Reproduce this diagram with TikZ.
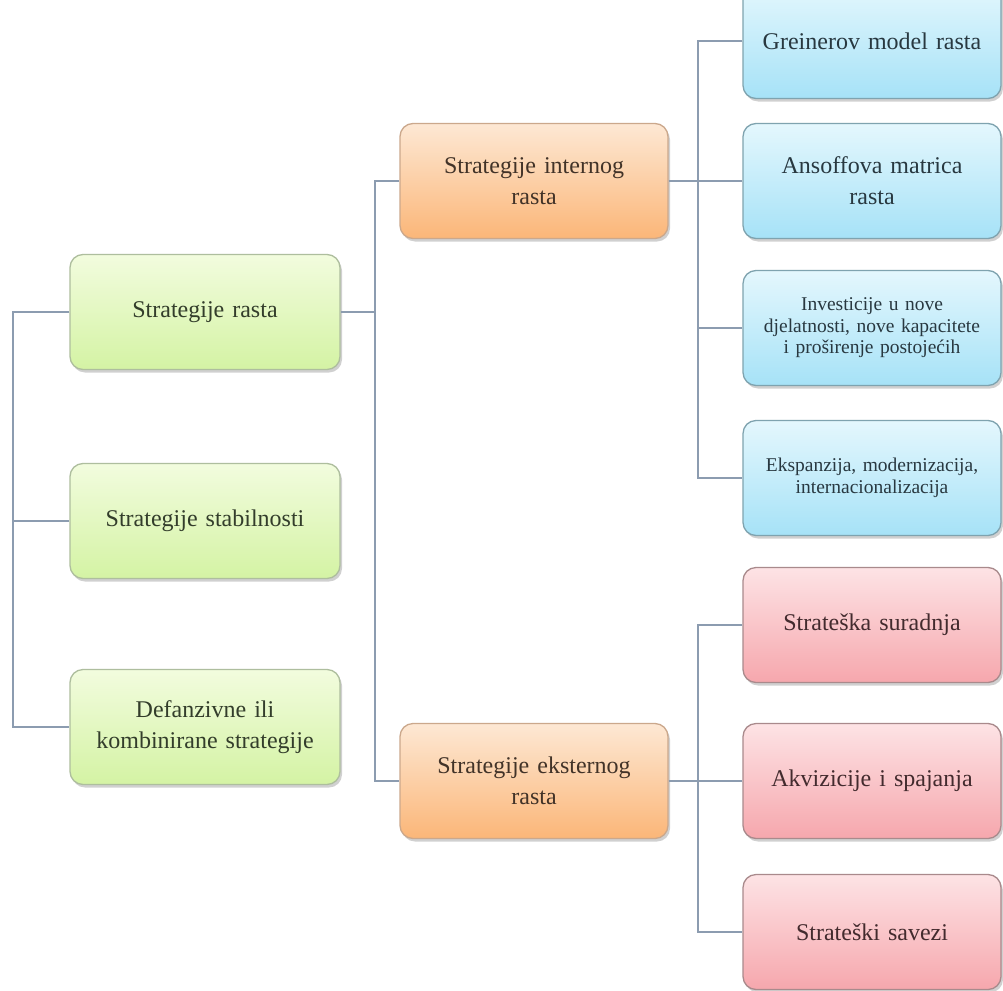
\documentclass[tikz,border=0pt]{standalone}
\usepackage{fontspec}
\setmainfont{Liberation Serif}
\usetikzlibrary{shadows}

\definecolor{lnc}{HTML}{8C9CB0}
\definecolor{grntop}{HTML}{F2FCDE}
\definecolor{grnbot}{HTML}{D4F3A4}
\definecolor{grnline}{HTML}{AEBE9E}
\definecolor{grntext}{HTML}{333D2B}
\definecolor{orgtop}{HTML}{FDE8D4}
\definecolor{orgbot}{HTML}{FBB678}
\definecolor{orgline}{HTML}{CBA88C}
\definecolor{orgtext}{HTML}{423328}
\definecolor{blutop}{HTML}{E4F7FD}
\definecolor{blubot}{HTML}{A6E2F7}
\definecolor{bluline}{HTML}{7FA3AF}
\definecolor{blutext}{HTML}{283840}
\definecolor{redtop}{HTML}{FDE3E5}
\definecolor{redbot}{HTML}{F6A7AD}
\definecolor{redline}{HTML}{A98A8C}
\definecolor{redtext}{HTML}{432B2E}

\tikzset{
    box/.style={rounded corners=13pt, draw, line width=1.3pt, align=center,
        inner sep=0pt, minimum height=115pt,
        font=\fontsize{24}{31}\selectfont,
        drop shadow={shadow xshift=2pt, shadow yshift=-3pt, opacity=0.3, fill=black!60}},
    greenbox/.style={box, minimum width=270pt, text width=262pt,
        draw=grnline, top color=grntop, bottom color=grnbot, text=grntext},
    orangebox/.style={box, minimum width=268pt, text width=260pt,
        draw=orgline, top color=orgtop, bottom color=orgbot, text=orgtext},
    bluebox/.style={box, minimum width=258pt, text width=254pt,
        draw=bluline, top color=blutop, bottom color=blubot, text=blutext},
    redbox/.style={box, minimum width=258pt, text width=254pt,
        draw=redline, top color=redtop, bottom color=redbot, text=redtext},
    smalltext/.style={font=\fontsize{19.5}{21.5}\selectfont},
    midtext/.style={font=\fontsize{19.5}{21.5}\selectfont},
    conn/.style={draw=lnc, line width=1.6pt},
}

\begin{document}
\begin{tikzpicture}[x=1pt, y=-1pt]
    \useasboundingbox[fill=white] (0,0) rectangle (1003,990);
    % junction columns
    \coordinate (j0) at (13,0);
    \coordinate (j1) at (375,0);
    \coordinate (j2) at (698,0);
    % level 1
    \node[greenbox] (rasta) at (205,312) {Strategije rasta};
    \node[greenbox] (stab) at (205,521) {Strategije stabilnosti};
    \node[greenbox] (def) at (205,727) {Defanzivne ili\\kombinirane strategije};
    % level 2
    \node[orangebox] (intern) at (534,181) {Strategije internog\\rasta};
    \node[orangebox] (ekst) at (534,781) {Strategije eksternog\\rasta};
    % level 3, internal growth
    \node[bluebox] (grein) at (872,41) {Greinerov model rasta};
    \node[bluebox] (ansof) at (872,181) {Ansoffova matrica\\rasta};
    \node[bluebox, smalltext] (invest) at (872,328) {Investicije u nove\\djelatnosti, nove kapacitete\\i proširenje postojećih};
    \node[bluebox, midtext] (eksp) at (872,478) {Ekspanzija, modernizacija,\\internacionalizacija};
    % level 3, external growth
    \node[redbox] (surad) at (872,625) {Strateška suradnja};
    \node[redbox] (akviz) at (872,781) {Akvizicije i spajanja};
    \node[redbox] (savez) at (872,932) {Strateški savezi};
    % connectors
    \draw[conn] (rasta.west) -- (rasta.west -| j0) -- (def.west -| j0) -- (def.west);
    \draw[conn] (stab.west) -- (stab.west -| j0);
    \draw[conn] (rasta.east) -- (rasta.east -| j1);
    \draw[conn] (intern.west) -- (intern.west -| j1) -- (ekst.west -| j1) -- (ekst.west);
    \draw[conn] (grein.west) -- (grein.west -| j2) -- (eksp.west -| j2) -- (eksp.west);
    \draw[conn] (intern.east) -- (ansof.west);
    \draw[conn] (invest.west) -- (invest.west -| j2);
    \draw[conn] (surad.west) -- (surad.west -| j2) -- (savez.west -| j2) -- (savez.west);
    \draw[conn] (ekst.east) -- (akviz.west);
\end{tikzpicture}
\end{document}
